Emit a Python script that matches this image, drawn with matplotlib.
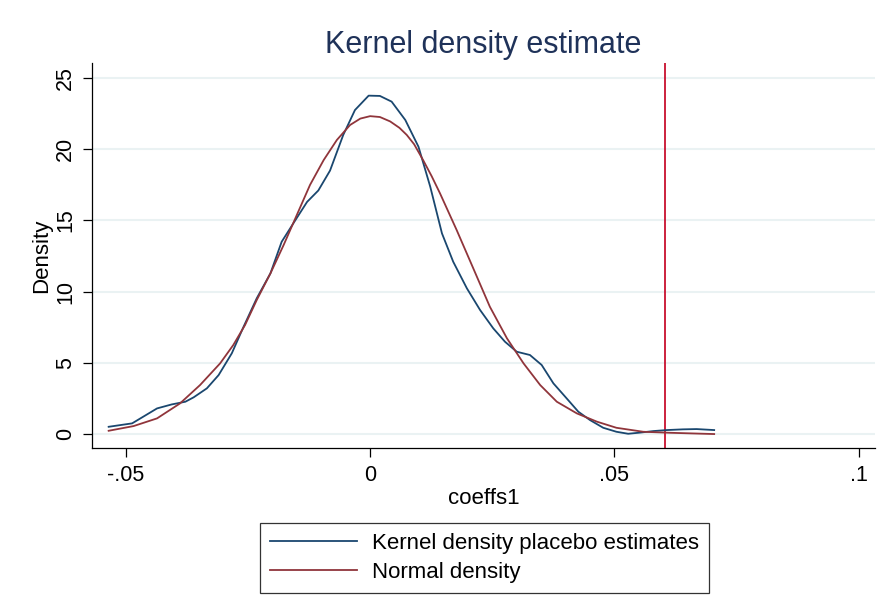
import matplotlib.pyplot as plt

plt.rcParams['font.family'] = ['Liberation Sans', 'DejaVu Sans']

# kernel density of placebo coefficients
kde_x = [-0.0535, -0.0487, -0.0436, -0.0406, -0.0378, -0.0361, -0.0334, -0.031,
         -0.0283, -0.0259, -0.0232, -0.0204, -0.0181, -0.0157, -0.0129, -0.0106,
         -0.0082, -0.0055, -0.0031, -0.0003, 0.0020, 0.0044, 0.0072, 0.0099,
         0.0123, 0.0147, 0.0170, 0.0198, 0.0225, 0.0252, 0.0276, 0.0300,
         0.0327, 0.0351, 0.0375, 0.0402, 0.0426, 0.0450, 0.0477, 0.0504,
         0.0528, 0.0552, 0.0580, 0.0607, 0.0640, 0.0668, 0.0704]
kde_y = [0.51, 0.75, 1.80, 2.08, 2.27, 2.58, 3.21, 4.14,
         5.67, 7.53, 9.53, 11.28, 13.5, 14.8, 16.3, 17.1,
         18.5, 21.0, 22.75, 23.76, 23.74, 23.34, 22.05, 20.17,
         17.37, 14.09, 12.1, 10.23, 8.71, 7.42, 6.48, 5.78,
         5.55, 4.85, 3.56, 2.51, 1.57, 0.98, 0.44, 0.16,
         0.02, 0.10, 0.21, 0.28, 0.33, 0.35, 0.28]

# normal density overlay
norm_x = [-0.0535, -0.0484, -0.0436, -0.0389, -0.0348, -0.0307, -0.028, -0.0256,
          -0.0232, -0.0204, -0.0177, -0.015, -0.0123, -0.0095, -0.0068, -0.0041,
          -0.002, 0.0, 0.002, 0.0041, 0.006, 0.0075, 0.009, 0.0109, 0.0126,
          0.0143, 0.0177, 0.0211, 0.0245, 0.028, 0.0314, 0.0348, 0.0382,
          0.0423, 0.0464, 0.0504, 0.0559, 0.0613, 0.0704]
norm_y = [0.23, 0.56, 1.10, 2.15, 3.44, 4.96, 6.25, 7.65,
          9.41, 11.28, 13.27, 15.38, 17.49, 19.24, 20.65, 21.7,
          22.15, 22.32, 22.26, 21.95, 21.5, 21.0, 20.35, 19.2, 18.1,
          16.9, 14.33, 11.64, 8.94, 6.72, 4.96, 3.44, 2.27,
          1.45, 0.87, 0.44, 0.16, 0.09, 0.0]

true_coef = 0.0603
x_ticks = [-0.05, 0, 0.05, 0.1]
x_tick_labels = ['-.05', '0', '.05', '.1']
y_ticks = [0, 5, 10, 15, 20, 25]

fig = plt.figure(figsize=(8.91, 6.02), dpi=100)
ax = fig.add_axes([0.1033, 0.2558, 0.8787, 0.6395])

ax.plot(kde_x, kde_y, color='#1A476F', lw=1.3, label='Kernel density placebo estimates', zorder=3)
ax.plot(norm_x, norm_y, color='#90353B', lw=1.3, label='Normal density', zorder=3)
ax.axvline(true_coef, color='#C8102E', lw=1.3, zorder=2)

ax.set_xlim(-0.0569, 0.1033)
ax.set_ylim(-0.98, 26.05)
ax.set_xticks(x_ticks)
ax.set_xticklabels(x_tick_labels)
ax.set_yticks(y_ticks)
ax.set_yticklabels([str(v) for v in y_ticks], rotation=90, va='center')
ax.tick_params(direction='out', length=6.5, width=0.9, labelsize=15.5, colors='black')
ax.tick_params(axis='x', pad=6)
ax.tick_params(axis='y', pad=5)
ax.grid(axis='y', color='#EAF2F3', lw=1.5, zorder=0)
ax.set_axisbelow(True)

for s in ['top', 'right']:
    ax.spines[s].set_visible(False)
for s in ['left', 'bottom']:
    ax.spines[s].set_linewidth(0.9)

ax.set_title('Kernel density estimate', fontsize=22, color='#1F3259', pad=7)
ax.set_xlabel('coeffs1', fontsize=16, labelpad=1)
ax.set_ylabel('Density', fontsize=16, labelpad=2)

leg = fig.legend(loc='center', bbox_to_anchor=(484.5 / 891, 1 - 558 / 602), fontsize=16,
                 frameon=True, fancybox=False, edgecolor='black', handlelength=3.9,
                 handletextpad=0.65, borderpad=0.45, labelspacing=0.36)
leg.get_frame().set_linewidth(0.9)

fig.savefig('out.png', dpi=100)
